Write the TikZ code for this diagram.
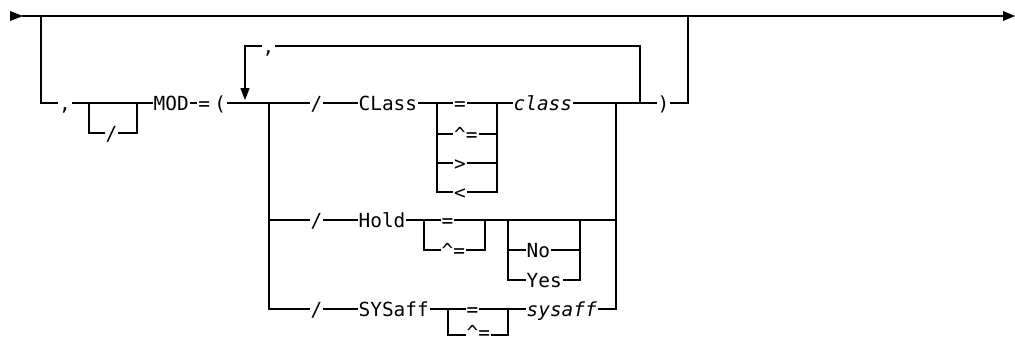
\documentclass[tikz,border=0pt]{standalone}
\usepackage{fontspec}
\newfontfamily\rmono{DejaVu Sans Mono}
\newcommand{\rfont}{\rmono\fontsize{19.4}{20}\selectfont}
\begin{document}
\begin{tikzpicture}[x=1pt,y=-1pt,line width=1.4pt,line join=miter,
  lbl/.style={font=\rfont, fill=white, inner xsep=1pt, inner ysep=0pt,
    text height=14pt, text depth=0pt, anchor=west},
  var/.style={lbl, font=\rfont\itshape},
  tip/.style={fill=black, draw=none}]
\useasboundingbox (0,0) rectangle (1015,341);
% main line with arrows
\fill[tip] (10,11) -- (23,16) -- (10,21) -- cycle;
\draw (22,16) -- (1003,16);
\fill[tip] (1003,11) -- (1015,16) -- (1003,21) -- cycle;
% optional branch and CLass row
\draw (41,16) -- (41,103) -- (688,103) -- (688,16);
% optional slash
\draw (89,103) |- (137,133) -- (137,103);
% repeat loop
\draw (640,103) -- (640,46) -- (245,46) -- (245,89);
\fill[tip] (240.3,88) -- (249.7,88) -- (245,100) -- cycle;
% main choice block
\draw (269,103) -- (269,309) -- (616,309) -- (616,103);
\draw (269,220) -- (616,220);
% CLass operator box
\draw (437,103) |- (497,192) -- (497,103);
\draw (437,134) -- (497,134);
\draw (437,163) -- (497,163);
% Hold boxes
\draw (424,220) |- (485,250) -- (485,220);
\draw (508,220) |- (580,280) -- (580,220);
\draw (508,250) -- (580,250);
% SYSaff operator box
\draw (448,309) |- (508,335) -- (508,309);
% labels
\node[lbl] (c1) at (57.5,103) {,};
\node[lbl] (sl0) at (104,133) {/};
\node[lbl] (mod) at (152,103) {MOD};
\node[lbl] (eqp) at (196.6,103) {=\kern4.3pt(};
\node[lbl] (c2) at (261,46) {,};
\node[lbl] (sl1) at (309,103) {/};
\node[lbl] (sl2) at (309,220) {/};
\node[lbl] (sl3) at (309,309) {/};
\node[lbl] (kcl) at (357,103) {CLass};
\node[lbl] (kho) at (357,220) {Hold};
\node[lbl] (ksy) at (357,309) {SYSaff};
\node[lbl] (ce1) at (452.5,103) {=};
\node[lbl] (ce2) at (452.5,134) {\textasciicircum=};
\node[lbl] (ce3) at (452.5,163) {>};
\node[lbl] (ce4) at (452.5,192) {<};
\node[var] (vcl) at (512,103) {class};
\node[lbl] (he1) at (440,220) {=};
\node[lbl] (he2) at (440,250) {\textasciicircum=};
\node[lbl] (hno) at (525,250) {No};
\node[lbl] (hye) at (525,280) {Yes};
\node[lbl] (se1) at (465,309) {=};
\node[lbl, anchor=base west] (se2) at (465,339) {\textasciicircum=};
\node[var] (vsy) at (525,309) {sysaff};
\node[lbl] (rp) at (656,103) {)};
\end{tikzpicture}
\end{document}
